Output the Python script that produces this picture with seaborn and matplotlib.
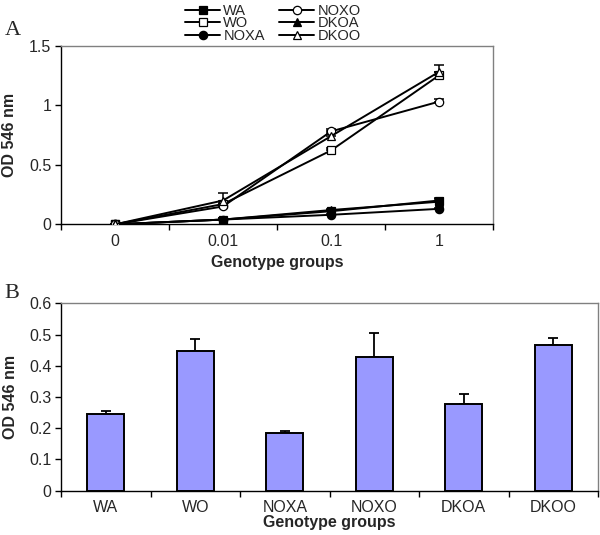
import numpy as np
import pandas as pd
import matplotlib
matplotlib.use("Agg")
import matplotlib.pyplot as plt
from matplotlib.ticker import FixedLocator
import seaborn as sns

# =========================
# Dados
# =========================
doses = ["0", "0.01", "0.1", "1"]
series_names = ["WA", "WO", "NOXA", "NOXO", "DKOA", "DKOO"]

wa = [0, 0.04, 0.11, 0.20]
wo = [0, 0.17, 0.62, 1.25]
noxa = [0, 0.04, 0.08, 0.13]
noxo = [0, 0.15, 0.78, 1.03]
dkoa = [0, 0.04, 0.12, 0.19]
dkoo = [0, 0.20, 0.74, 1.28]

wa_err = [0, 0.01, 0.01, 0.02]
wo_err = [0, 0.02, 0.02, 0.03]
noxa_err = [0, 0.005, 0.01, 0.01]
noxo_err = [0, 0.02, 0.02, 0.02]
dkoa_err = [0, 0.01, 0.01, 0.02]
dkoo_err = [0, 0.06, 0.03, 0.06]

groups = ["WA", "WO", "NOXA", "NOXO", "DKOA", "DKOO"]
od_values = [0.247, 0.447, 0.184, 0.427, 0.276, 0.467]
od_err = [0.007, 0.04, 0.007, 0.077, 0.035, 0.022]

yticks_a = [0, 0.5, 1, 1.5]
ylabels_a = ["0", "0.5", "1", "1.5"]
yticks_b = [0, 0.1, 0.2, 0.3, 0.4, 0.5, 0.6]
ylabels_b = ["0", "0.1", "0.2", "0.3", "0.4", "0.5", "0.6"]

# =========================
# Estilo
# =========================
sns.set_style("white")
plt.rcParams["font.family"] = ["Liberation Sans", "DejaVu Sans"]

fig = plt.figure(figsize=(6, 5.35), dpi=100)
axA = fig.add_axes([0.1017, 0.5807, 0.72, 0.334])
axB = fig.add_axes([0.1017, 0.0828, 0.895, 0.3503])

# =========================
# Painel A - linhas
# =========================
line_data = [wa, wo, noxa, noxo, dkoa, dkoo]
line_err = [wa_err, wo_err, noxa_err, noxo_err, dkoa_err, dkoo_err]
markers = ["s", "s", "o", "o", "^", "^"]
fills = ["black", "white", "black", "white", "black", "white"]

for name, vals, errs, mk, fc in zip(series_names, line_data, line_err, markers, fills):
    axA.errorbar(doses, vals, yerr=[np.zeros(len(errs)), errs], fmt="none",
                 ecolor="black", elinewidth=1.1, capsize=3.5, capthick=1.1, zorder=2)
    sns.lineplot(x=doses, y=vals, sort=False, color="black", linewidth=1.4,
                 marker=mk, markersize=6, markerfacecolor=fc,
                 markeredgecolor="black", markeredgewidth=0.9,
                 label=name, ax=axA, zorder=3)

handles, labels = axA.get_legend_handles_labels()
if axA.get_legend() is not None:
    axA.get_legend().remove()
fig.legend(handles, labels, ncol=2, loc="upper center", bbox_to_anchor=(0.455, 1.012),
           frameon=False, fontsize=10.5, labelspacing=-0.1, handlelength=2.4,
           handletextpad=0.2, columnspacing=1.0, borderpad=0.2)

axA.set_xlim(-0.5, 3.5)
axA.set_ylim(0, 1.5)
axA.yaxis.set_major_locator(FixedLocator(yticks_a))
axA.set_yticklabels(ylabels_a)
axA.set_ylabel("OD 546 nm", fontsize=11.5, fontweight="bold")
axA.set_xlabel("Genotype groups", fontsize=11.5, fontweight="bold")
axA.yaxis.set_label_coords(-0.101, 0.5)
axA.xaxis.set_label_coords(0.5, -0.17)

# =========================
# Painel B - barras
# =========================
sns.barplot(x=groups, y=od_values, color="#9999FF", saturation=1,
            edgecolor="black", linewidth=1.4, width=0.41, ax=axB, zorder=2)
axB.errorbar(groups, od_values, yerr=[np.zeros(len(od_err)), od_err], fmt="none",
             ecolor="black", elinewidth=1.3, capsize=3.5, capthick=1.3, zorder=1)

axB.set_xlim(-0.5, 5.5)
axB.set_ylim(0, 0.6)
axB.yaxis.set_major_locator(FixedLocator(yticks_b))
axB.set_yticklabels(ylabels_b)
axB.set_ylabel("OD 546 nm", fontsize=11.5, fontweight="bold")
axB.set_xlabel("Genotype groups", fontsize=11.5, fontweight="bold")
axB.yaxis.set_label_coords(-0.081, 0.5)
axB.xaxis.set_label_coords(0.5, -0.13)

# =========================
# Eixos comuns
# =========================
for ax, n in [(axA, 4), (axB, 6)]:
    ax.set_facecolor("white")
    for side in ["left", "bottom"]:
        ax.spines[side].set_color("black")
        ax.spines[side].set_linewidth(1.0)
    for side in ["top", "right"]:
        ax.spines[side].set_color("#808080")
        ax.spines[side].set_linewidth(1.0)
    ax.xaxis.set_minor_locator(FixedLocator(np.arange(n + 1) - 0.5))
    ax.tick_params(axis="x", which="major", length=0, pad=7, labelsize=11.5)
    ax.tick_params(axis="x", which="minor", length=4, width=1, color="black", direction="out", bottom=True)
    ax.tick_params(axis="y", which="major", length=4, width=1, color="black", direction="out",
                   left=True, pad=3, labelsize=11.5)
    ax.grid(False)

fig.text(0.008, 0.935, "A", fontsize=16, family=["Liberation Serif", "DejaVu Serif"])
fig.text(0.008, 0.443, "B", fontsize=16, family=["Liberation Serif", "DejaVu Serif"])

plt.savefig("out.png", dpi=100)
